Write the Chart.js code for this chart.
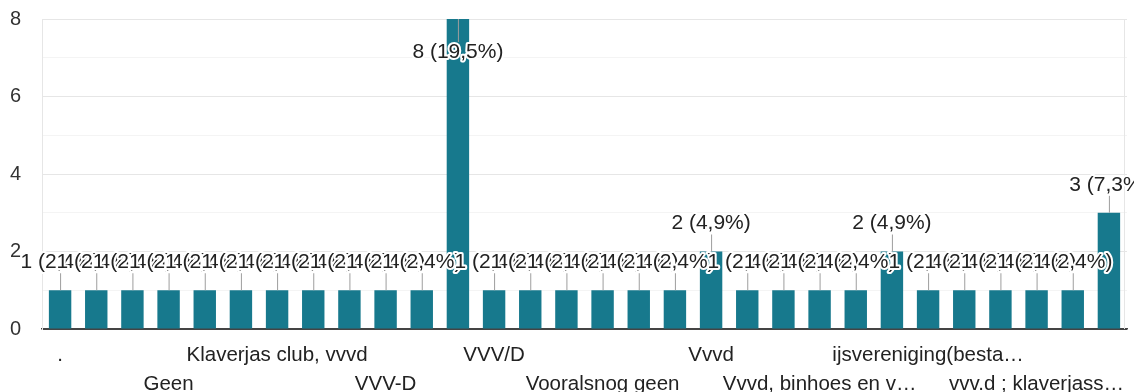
<!DOCTYPE html>
<html>
<head>
<meta charset="utf-8">
<script src="https://cdn.jsdelivr.net/npm/chart.js@4"></script>
<style>
  html, body { margin: 0; padding: 0; background: #fff; }
  #wrap { width: 1134px; height: 392px; position: relative; }
</style>
</head>
<body>
<div id="wrap"><canvas id="c"></canvas></div>
<script>
// Categories (only every third label is legible in the reference; others unknown)
const categories = [
  ".", "", "", "Geen", "", "", "Klaverjas club, vvvd", "", "", "VVV-D",
  "", "", "VVV/D", "", "", "Vooralsnog geen", "", "", "Vvvd", "",
  "", "Vvvd, binhoes en v…", "", "", "ijsvereniging(besta…", "", "", "vvv.d ; klaverjass…", "", ""
];
const counts = [
  1, 1, 1, 1, 1, 1, 1, 1, 1, 1,
  1, 8, 1, 1, 1, 1, 1, 1, 2, 1,
  1, 1, 1, 2, 1, 1, 1, 1, 1, 3
];
const yTicks = [0, 2, 4, 6, 8];

const total = counts.reduce((a, b) => a + b, 0);
const FONT = "'Liberation Sans', Arial, sans-serif";

const framePlugin = {
  id: 'rightFrame',
  beforeDatasetsDraw(chart) {
    const ctx = chart.ctx, a = chart.chartArea;
    ctx.save();
    ctx.strokeStyle = '#e6e6e6';
    ctx.lineWidth = 1;
    ctx.beginPath();
    ctx.moveTo(Math.round(a.right) - 2.5, a.top);
    ctx.lineTo(Math.round(a.right) - 2.5, a.bottom);
    ctx.stroke();
    ctx.restore();
  }
};

const labelPlugin = {
  id: 'valueLabels',
  afterDatasetsDraw(chart) {
    const ctx = chart.ctx;
    const meta = chart.getDatasetMeta(0);
    const area = chart.chartArea;
    ctx.save();
    ctx.font = "21px " + FONT;
    ctx.textAlign = 'center';
    ctx.textBaseline = 'middle';
    meta.data.forEach((bar, i) => {
      const v = counts[i];
      const pct = (v / total * 100).toFixed(1).replace('.', ',');
      const text = v + ' (' + pct + '%)';
      const x = bar.x, top = bar.y;
      let ly, l1, l2;
      if (top - 40 < area.top) {
        ly = top + 33; l1 = top; l2 = top + 23;
      } else {
        ly = top - 28; l1 = top; l2 = top - 17;
      }
      ctx.strokeStyle = '#9e9e9e';
      ctx.lineWidth = 1;
      ctx.beginPath();
      ctx.moveTo(x + 0.5, l1);
      ctx.lineTo(x + 0.5, l2);
      ctx.stroke();
      ctx.lineJoin = 'round';
      ctx.strokeStyle = '#ffffff';
      ctx.lineWidth = 4;
      ctx.strokeText(text, x, ly);
      ctx.fillStyle = '#222222';
      ctx.fillText(text, x, ly);
    });
    ctx.restore();
  }
};

new Chart(document.getElementById('c'), {
  type: 'bar',
  data: {
    labels: categories,
    datasets: [{
      data: counts,
      backgroundColor: '#17798d',
      barPercentage: 0.62,
      categoryPercentage: 1.0
    }]
  },
  options: {
    responsive: true,
    maintainAspectRatio: false,
    animation: false,
    layout: { padding: { top: 19, right: 7, left: 10, bottom: 0 } },
    plugins: { legend: { display: false }, tooltip: { enabled: false } },
    scales: {
      x: {
        grid: { display: false, drawTicks: false },
        border: { display: true, color: '#444444', width: 1.5 },
        afterFit(scale) { scale.height = 63; },
        ticks: {
          autoSkip: false,
          maxRotation: 0,
          minRotation: 0,
          padding: 12,
          color: '#222222',
          font: { family: FONT, size: 20.5, lineHeight: 1.41 },
          callback(value, index) {
            if (index % 3 !== 0) return '';
            const lab = categories[index];
            return ((index / 3) % 2 === 0) ? [lab, ''] : ['', lab];
          }
        }
      },
      y: {
        min: 0,
        max: 8,
        afterFit(scale) { scale.width = 32; },
        border: { display: true, color: '#e6e6e6' },
        grid: {
          drawTicks: false,
          color(ctx) {
            const v = ctx.tick.value;
            if (v === 0) return '#444444';
            return yTicks.includes(v) ? '#e6e6e6' : '#f4f4f4';
          }
        },
        ticks: {
          stepSize: 1,
          padding: 0,
          crossAlign: 'far',
          color: '#333333',
          font: { family: FONT, size: 20 },
          callback(value) { return yTicks.includes(value) ? String(value) : ''; }
        }
      }
    }
  },
  plugins: [framePlugin, labelPlugin]
});
</script>
</body>
</html>
